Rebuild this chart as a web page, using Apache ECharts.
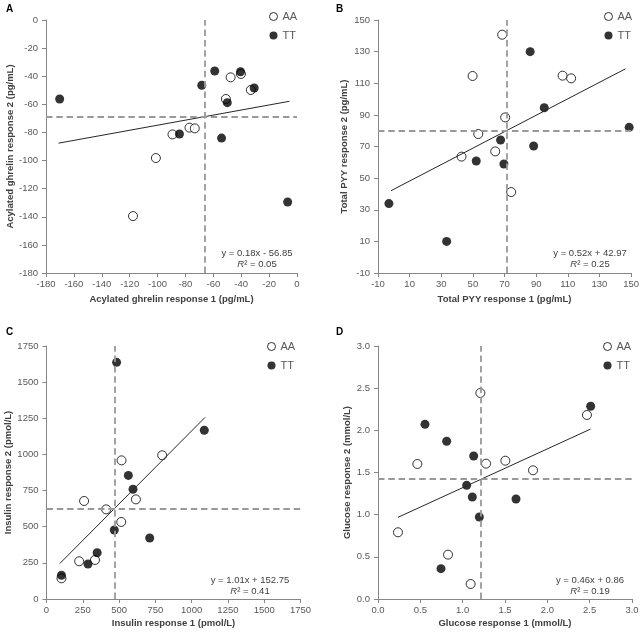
<!DOCTYPE html>
<html>
<head>
<meta charset="utf-8">
<script src="https://cdn.jsdelivr.net/npm/echarts@6/dist/echarts.min.js"></script>
<style>html,body{margin:0;padding:0;background:#fff;}#c{width:642px;height:634px;}</style>
</head>
<body>
<div id="c"></div>
<script>
// ---- Data ----
const ghrelinAA = [[-117.6,-139.5],[-101.2,-98.2],[-89.3,-81.4],[-77.1,-76.6],[-73.3,-77.1],[-51,-56.2],[-47.6,-40.8],[-40.2,-38.4],[-33.1,-49.8]];
const ghrelinTT = [[-170.2,-56.2],[-84.3,-81.1],[-68.3,-46.5],[-59,-36.3],[-54.1,-84],[-50,-58.8],[-40.5,-36.8],[-30.7,-48.4],[-6.7,-129.5]];
const pyyAA = [[42.8,63.6],[49.8,114.6],[53.4,77.9],[64.1,66.9],[68.5,140.7],[70.4,88.4],[74.2,41.2],[106.7,114.8],[112.1,113.1]];
const pyyTT = [[-3.1,33.9],[33.4,10],[52.1,60.8],[67.5,74.1],[69.6,58.9],[86.2,130],[88.4,70.3],[95.1,94.5],[148.8,82.1]];
const insulinAA = [[103,143],[225,261],[259,678],[334,270],[411,620],[515,533],[517,959],[616,689],[797,994]];
const insulinTT = [[103,164],[286,242],[349,320],[467,477],[483,1637],[564,855],[596,759],[711,422],[1087,1167]];
const glucoseAA = [[0.236,0.791],[0.465,1.601],[0.827,0.526],[1.094,0.178],[1.209,2.443],[1.276,1.605],[1.504,1.640],[1.831,1.526],[2.468,2.182]];
const glucoseTT = [[0.555,2.071],[0.744,0.360],[0.811,1.870],[1.047,1.348],[1.114,1.209],[1.130,1.696],[1.197,0.972],[1.630,1.186],[2.512,2.285]];

// dashed reference lines (x value, y value)
const meanX = [-66.4, 71.1, 469, 1.205];
const meanY = [-68.6, 80, 623, 1.415];
// regression lines: slope, intercept, x extent
const slopes = [0.18, 0.52, 1.01, 0.46];
const intercepts = [-56.85, 42.97, 152.75, 0.86];
const lineStartX = [-171, -1.8, 92, 0.236];
const lineEndX = [-5.5, 146.5, 1092, 2.51];
const eqTexts = ['y = 0.18x - 56.85', 'y = 0.52x + 42.97', 'y = 1.01x + 152.75', 'y = 0.46x + 0.86'];
const r2Texts = ['0.05', '0.25', '0.41', '0.19'];

// axes
const axisMin = [-180, -10, 0, 0];
const axisMax = [0, 150, 1750, 3];
const axisStep = [20, 20, 250, 0.5];
const yMin = [-180, -10, 0, 0];
const yMax = [0, 150, 1750, 3];
const yStep = [20, 20, 250, 0.5];
const xNames = ['Acylated ghrelin response 1 (pg/mL)', 'Total PYY response 1 (pg/mL)', 'Insulin response 1 (pmol/L)', 'Glucose response 1 (mmol/L)'];
const yNames = ['Acylated ghrelin response 2 (pg/mL)', 'Total PYY response 2 (pg/mL)', 'Insulin response 2 (pmol/L)', 'Glucose response 2 (mmol/L)'];
const panelLetters = ['A', 'B', 'C', 'D'];
const groups = ['AA', 'TT'];

const seriesAA = [ghrelinAA, pyyAA, insulinAA, glucoseAA];
const seriesTT = [ghrelinTT, pyyTT, insulinTT, glucoseTT];

// ---- Layout / style ----
const FONT = '"Liberation Sans", Arial, sans-serif';
const grids = [
  {left: 46, top: 20, width: 251, height: 253},
  {left: 378, top: 20, width: 254, height: 253},
  {left: 46.5, top: 346, width: 254, height: 253},
  {left: 378, top: 346, width: 254, height: 253}
];
const yNameGap = [28, 29, 30, 26];
const xNameGap = [21, 21, 19, 19];
const legendPos = [[269, 11], [604, 11], [267, 341], [603, 341]];
const eqPos = [[257, 253], [590, 253], [250, 580], [590, 580]];
const letterPos = [[6, 4], [336, 4], [6, 327], [336, 327]];
const axisColor = '#868686';
const labelColor = '#595959';

function fmt(i) {
  return function (v) { return i === 3 ? v.toFixed(1) : String(v); };
}

const xAxis = [], yAxis = [], series = [], legend = [], graphic = [];
for (let i = 0; i < 4; i++) {
  xAxis.push({
    type: 'value', gridIndex: i, min: axisMin[i], max: axisMax[i], interval: axisStep[i],
    name: xNames[i], nameLocation: 'middle', nameGap: xNameGap[i],
    nameTextStyle: {fontFamily: FONT, fontWeight: 'bold', fontSize: 9.5, color: '#404040'},
    axisLine: {show: true, onZero: false, lineStyle: {color: axisColor, width: 1}},
    axisTick: {show: true, length: 4, lineStyle: {color: axisColor}},
    axisLabel: {fontFamily: FONT, fontSize: 9.5, color: labelColor, margin: 6, formatter: fmt(i)},
    splitLine: {show: false}
  });
  yAxis.push({
    type: 'value', gridIndex: i, min: yMin[i], max: yMax[i], interval: yStep[i],
    name: yNames[i], nameLocation: 'middle', nameGap: yNameGap[i],
    nameTextStyle: {fontFamily: FONT, fontWeight: 'bold', fontSize: 9.5, color: '#404040'},
    axisLine: {show: true, onZero: false, lineStyle: {color: axisColor, width: 1}},
    axisTick: {show: true, length: 4, lineStyle: {color: axisColor}},
    axisLabel: {fontFamily: FONT, fontSize: 9.5, color: labelColor, margin: 8, formatter: fmt(i)},
    splitLine: {show: false}
  });
  series.push({
    name: groups[0], type: 'scatter', xAxisIndex: i, yAxisIndex: i,
    data: seriesAA[i], symbol: 'circle', symbolSize: 9,
    itemStyle: {color: '#ffffff', borderColor: '#000000', borderWidth: 1},
    markLine: {
      silent: true, symbol: ['none', 'none'], label: {show: false},
      lineStyle: {type: [6.5, 3.8], color: '#999999', width: 1.8},
      data: [{xAxis: meanX[i]}, {yAxis: meanY[i]}]
    },
    z: 2
  });
  series.push({
    name: groups[1], type: 'scatter', xAxisIndex: i, yAxisIndex: i,
    data: seriesTT[i], symbol: 'circle', symbolSize: 9,
    itemStyle: {color: '#000000'},
    z: 3
  });
  series.push({
    name: 'trend' + i, type: 'line', xAxisIndex: i, yAxisIndex: i,
    data: [[lineStartX[i], slopes[i] * lineStartX[i] + intercepts[i]], [lineEndX[i], slopes[i] * lineEndX[i] + intercepts[i]]],
    showSymbol: false, symbol: 'none',
    lineStyle: {color: '#262626', width: 1},
    z: 4, silent: true
  });
  legend.push({
    data: [
      {name: groups[0], icon: 'circle', itemStyle: {color: '#ffffff', borderColor: '#000000', borderWidth: 1}},
      {name: groups[1], icon: 'circle', itemStyle: {color: '#000000', borderWidth: 0}}
    ],
    orient: 'vertical', left: legendPos[i][0], top: legendPos[i][1], padding: 0,
    itemWidth: 8, itemHeight: 8, itemGap: 8, selectedMode: false,
    textStyle: {fontFamily: FONT, fontSize: 11, color: labelColor}
  });
  graphic.push({
    type: 'text', x: eqPos[i][0], y: eqPos[i][1],
    style: {text: eqTexts[i], fontFamily: FONT, fontSize: 9.5, fill: '#404040', align: 'center', verticalAlign: 'middle'}
  });
  graphic.push({
    type: 'text', x: eqPos[i][0], y: eqPos[i][1] + 11,
    style: {
      text: '{i|R}² = ' + r2Texts[i], fontFamily: FONT, fontSize: 9.5, fill: '#404040', align: 'center', verticalAlign: 'middle',
      rich: {i: {fontStyle: 'italic', fontFamily: FONT, fontSize: 9.5, fill: '#404040'}}
    }
  });
  graphic.push({
    type: 'text', x: letterPos[i][0], y: letterPos[i][1],
    style: {text: panelLetters[i], fontFamily: FONT, fontSize: 10, fontWeight: 'bold', fill: '#000'}
  });
}

const chart = echarts.init(document.getElementById('c'), null, {renderer: 'canvas'});
chart.setOption({
  animation: false,
  backgroundColor: '#ffffff',
  grid: grids,
  xAxis: xAxis,
  yAxis: yAxis,
  legend: legend,
  series: series,
  graphic: graphic
});
</script>
</body>
</html>
